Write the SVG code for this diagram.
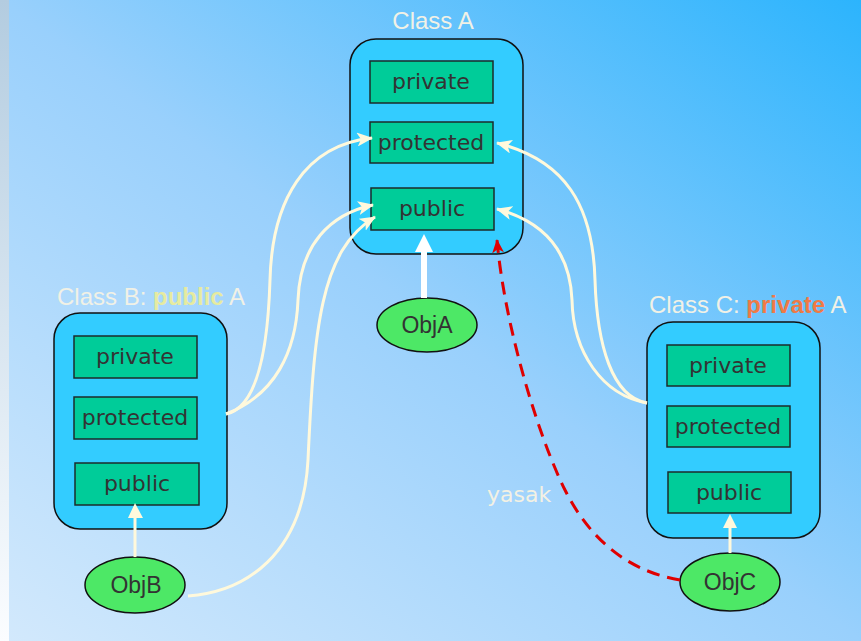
<svg xmlns="http://www.w3.org/2000/svg" width="861" height="641" viewBox="0 0 861 641">
  <defs>
    <linearGradient id="bg" x1="0" y1="1" x2="1" y2="0">
      <stop offset="0" stop-color="#d3e9fc"/>
      <stop offset="0.5" stop-color="#99d0fc"/>
      <stop offset="1" stop-color="#2cb4fd"/>
    </linearGradient>
    <linearGradient id="strip" x1="0" y1="0" x2="0" y2="1">
      <stop offset="0" stop-color="#b3cce0"/>
      <stop offset="1" stop-color="#fbfdff"/>
    </linearGradient>
    <marker id="cream" viewBox="0 0 16 14" refX="15" refY="7" markerWidth="16" markerHeight="14" markerUnits="userSpaceOnUse" orient="auto">
      <path d="M0,0 L16,7 L0,14 L4,7 z" fill="#fff9dc"/>
    </marker>
    <marker id="red" viewBox="0 0 14 12" refX="13" refY="6" markerWidth="14" markerHeight="12" markerUnits="userSpaceOnUse" orient="auto">
      <path d="M0,0 L14,6 L0,12 L4,6 z" fill="#e00000"/>
    </marker>
    <style>
      .outer { fill: #33ccff; stroke: #111; stroke-width: 1.5; }
      .inner { fill: #00cc99; stroke: #1c2b2b; stroke-width: 1.5; }
      .obj { fill: #4de866; stroke: #111; stroke-width: 1.5; }
      .mem { font-family: "DejaVu Sans", sans-serif; font-size: 22px; fill: #333; text-anchor: middle; }
      .objt { font-family: "Liberation Sans", Arial, sans-serif; font-size: 23px; fill: #333; text-anchor: middle; }
      .cls { font-family: "Liberation Sans", Arial, sans-serif; font-size: 24px; fill: #f1f1e6; }
      .link { fill: none; stroke: #fff9dc; stroke-width: 3; }
    </style>
  </defs>

  <!-- backdrop -->
  <rect x="0" y="0" width="861" height="641" fill="url(#bg)"/>
  <rect x="0" y="0" width="9" height="641" fill="url(#strip)"/>

  <!-- Class A -->
  <g id="classA">
    <text class="cls" x="433" y="29" text-anchor="middle">Class A</text>
    <rect class="outer" x="350" y="39" width="173" height="215" rx="26"/>
    <rect class="inner" x="370" y="61" width="123" height="42"/>
    <text class="mem" x="431" y="89">private</text>
    <rect class="inner" x="370" y="122" width="123" height="41"/>
    <text class="mem" x="431" y="150">protected</text>
    <rect class="inner" x="371" y="188" width="123" height="42"/>
    <text class="mem" x="432" y="216">public</text>
  </g>

  <!-- Class B -->
  <g id="classB">
    <text class="cls" x="57" y="305">Class B: <tspan font-weight="bold" fill="#e6eba0">public</tspan> A</text>
    <rect class="outer" x="54" y="313" width="173" height="216" rx="26"/>
    <rect class="inner" x="74" y="336" width="123" height="42"/>
    <text class="mem" x="135" y="364">private</text>
    <rect class="inner" x="74" y="397" width="123" height="42"/>
    <text class="mem" x="135" y="425">protected</text>
    <rect class="inner" x="75" y="463" width="124" height="42"/>
    <text class="mem" x="137" y="491">public</text>
  </g>

  <!-- Class C -->
  <g id="classC">
    <text class="cls" x="649" y="313">Class C: <tspan font-weight="bold" fill="#f07a45">private</tspan> A</text>
    <rect class="outer" x="647" y="322" width="173" height="216" rx="26"/>
    <rect class="inner" x="667" y="345" width="123" height="41"/>
    <text class="mem" x="728" y="373">private</text>
    <rect class="inner" x="667" y="406" width="123" height="41"/>
    <text class="mem" x="728" y="434">protected</text>
    <rect class="inner" x="668" y="472" width="123" height="41"/>
    <text class="mem" x="729" y="500">public</text>
  </g>

  <!-- objects -->
  <g id="objA">
    <ellipse class="obj" cx="427" cy="325" rx="50" ry="27"/>
    <text class="objt" x="427" y="333">ObjA</text>
  </g>
  <g id="objB">
    <ellipse class="obj" cx="135" cy="585" rx="50" ry="28"/>
    <text class="objt" x="136" y="593">ObjB</text>
  </g>
  <g id="objC">
    <ellipse class="obj" cx="730" cy="582" rx="50" ry="29"/>
    <text class="objt" x="730" y="590">ObjC</text>
  </g>

  <!-- access connectors -->
  <g id="connectors">
    <!-- objects to their own class' public part -->
    <line x1="424" y1="298" x2="424" y2="250" stroke="#ffffff" stroke-width="6"/>
    <path d="M415,252 L424,234 L433,252 z" fill="#ffffff"/>
    <line x1="135" y1="557" x2="135" y2="516" stroke="#fff9dc" stroke-width="3"/>
    <path d="M128,518 L135,503 L143,518 z" fill="#fff9dc"/>
    <line x1="730" y1="553" x2="730" y2="526" stroke="#fff9dc" stroke-width="3"/>
    <path d="M723,528 L730,514 L737,528 z" fill="#fff9dc"/>

    <!-- Class B reaching into Class A -->
    <path class="link" d="M226,414 C258,408 268,345 270,280 C272,200 305,145 372,138" marker-end="url(#cream)"/>
    <path class="link" d="M226,414 C275,395 296,352 298,300 C300,245 330,214 373,205" marker-end="url(#cream)"/>
    <path class="link" d="M188,596 C245,592 303,555 308,460 C314,330 320,250 375,217" marker-end="url(#cream)"/>

    <!-- Class C reaching into Class A -->
    <path class="link" d="M647,403 C612,397 597,345 595,280 C593,205 565,160 497,143" marker-end="url(#cream)"/>
    <path class="link" d="M647,403 C602,395 573,352 572,300 C570,252 545,222 497,209" marker-end="url(#cream)"/>

    <!-- forbidden access from ObjC -->
    <path d="M680,580 C620,570 585,530 565,490 C540,440 505,330 497,240" fill="none" stroke="#e00000" stroke-width="3" stroke-dasharray="13,8" marker-end="url(#red)"/>
    <text x="487" y="502" font-family="DejaVu Sans, sans-serif" font-size="22" fill="#f3f1e4">yasak</text>
  </g>
</svg>
